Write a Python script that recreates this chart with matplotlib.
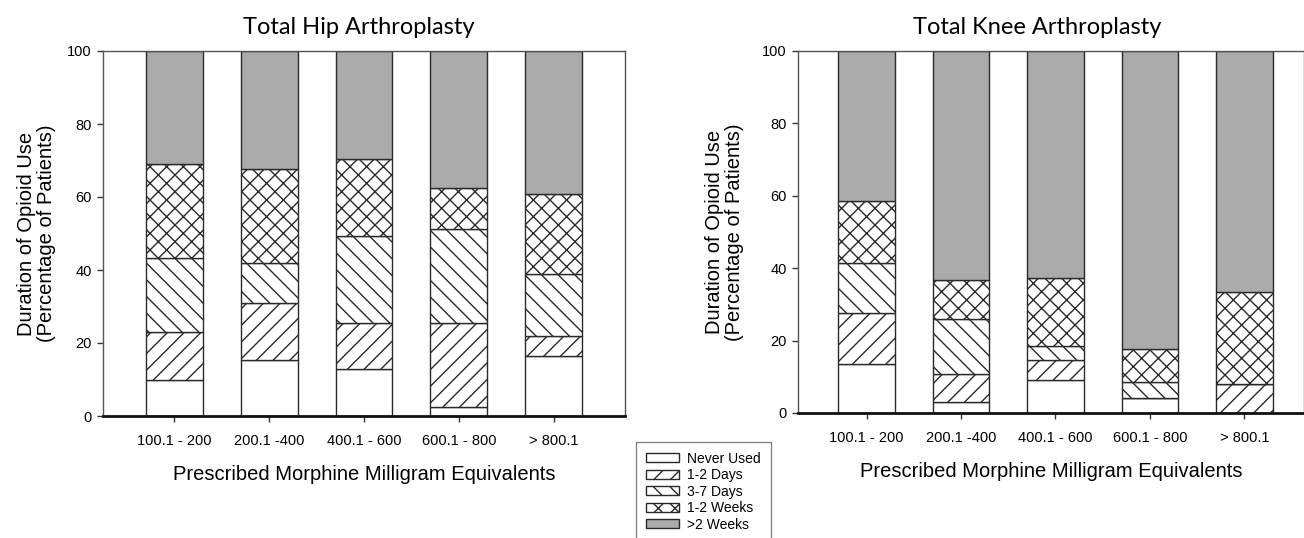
import matplotlib
matplotlib.use("Agg")
import matplotlib.pyplot as plt
import numpy as np

categories = ["100.1 - 200", "200.1 -400", "400.1 - 600", "600.1 - 800", "> 800.1"]
series_names = ["Never Used", "1-2 Days", "3-7 Days", "1-2 Weeks", ">2 Weeks"]

hip_never = [10.0, 15.4, 13.0, 2.5, 16.4]
hip_1_2d = [13.0, 15.5, 12.5, 23.0, 5.5]
hip_3_7d = [20.3, 11.1, 23.9, 25.8, 16.9]
hip_1_2w = [25.8, 25.8, 21.0, 11.3, 22.0]
hip_gt2w = [30.9, 32.2, 29.6, 37.4, 39.2]

knee_never = [13.6, 3.0, 9.2, 4.1, 0.0]
knee_1_2d = [14.0, 7.8, 5.4, 0.0, 8.1]
knee_3_7d = [13.7, 15.2, 3.8, 4.6, 0.0]
knee_1_2w = [17.3, 10.8, 18.8, 9.1, 25.2]
knee_gt2w = [41.4, 63.2, 62.8, 82.2, 66.7]

yticks = [0, 20, 40, 60, 80, 100]

plt.rcParams['font.family'] = ['Liberation Sans', 'DejaVu Sans']
plt.rcParams['hatch.color'] = '#333333'
plt.rcParams['hatch.linewidth'] = 1.0

hatches = [None, '//', '\\\\', 'xx', None]
fills = ['white', 'white', 'white', 'white', '#aaaaaa']
edge = '#2a2a2a'

fig = plt.figure(figsize=(13.04, 5.38), dpi=100)

def draw(ax, data, title, title_x, ylabelpad):
    x = np.arange(len(categories))
    bottom = np.zeros(len(categories))
    handles = []
    for vals, h, fc, name in zip(data, hatches, fills, series_names):
        b = ax.bar(x, vals, width=0.6, bottom=bottom, color=fc, edgecolor=edge,
                   hatch=h, linewidth=1.0, label=name, zorder=2)
        handles.append(b)
        bottom = bottom + np.array(vals)
    ax.set_ylim(0, 100)
    ax.set_yticks(yticks)
    ax.set_xticks(x)
    ax.set_xticklabels(categories, fontsize=10.5)
    ax.tick_params(axis='y', labelsize=10.5, direction='out', length=4, width=1, color='#333333', pad=4)
    ax.tick_params(axis='x', direction='out', length=4, width=1, color='#333333', pad=9)
    for s in ['left', 'top', 'right']:
        ax.spines[s].set_color('#555555')
        ax.spines[s].set_linewidth(1.0)
    ax.spines['bottom'].set_color('#111111')
    ax.spines['bottom'].set_linewidth(2.0)
    ax.set_xlabel("Prescribed Morphine Milligram Equivalents", fontsize=14.5, labelpad=12)
    ax.set_ylabel("Duration of Opioid Use\n(Percentage of Patients)", fontsize=14.5,
                  linespacing=1.1, labelpad=ylabelpad)
    ax.set_title(title, fontsize=17, family=['Lato', 'DejaVu Sans'], x=title_x, pad=12)
    return handles

ax1 = fig.add_axes([103/1304, 1-416/538, (625-103)/1304, (416-51)/538])
h = draw(ax1, [hip_never, hip_1_2d, hip_3_7d, hip_1_2w, hip_gt2w], "Total Hip Arthroplasty", 0.49, 8)
ax1.set_xlim(-0.75, 4.75)

ax2 = fig.add_axes([798/1304, 1-413/538, (1304-798)/1304, (413-51)/538])
draw(ax2, [knee_never, knee_1_2d, knee_3_7d, knee_1_2w, knee_gt2w], "Total Knee Arthroplasty", 0.472, 13)
ax2.set_xlim(-0.725, 4.63)

leg = fig.legend(handles=h, labels=series_names, loc='upper left',
                 bbox_to_anchor=(636/1304, 1-442/538), fontsize=10, frameon=True,
                 fancybox=False, edgecolor='#666666', handlelength=2.4, handleheight=0.6,
                 handletextpad=0.6, labelspacing=0.18, borderpad=0.7, borderaxespad=0)
leg.get_frame().set_linewidth(1.0)

fig.savefig("out.png", dpi=100)
